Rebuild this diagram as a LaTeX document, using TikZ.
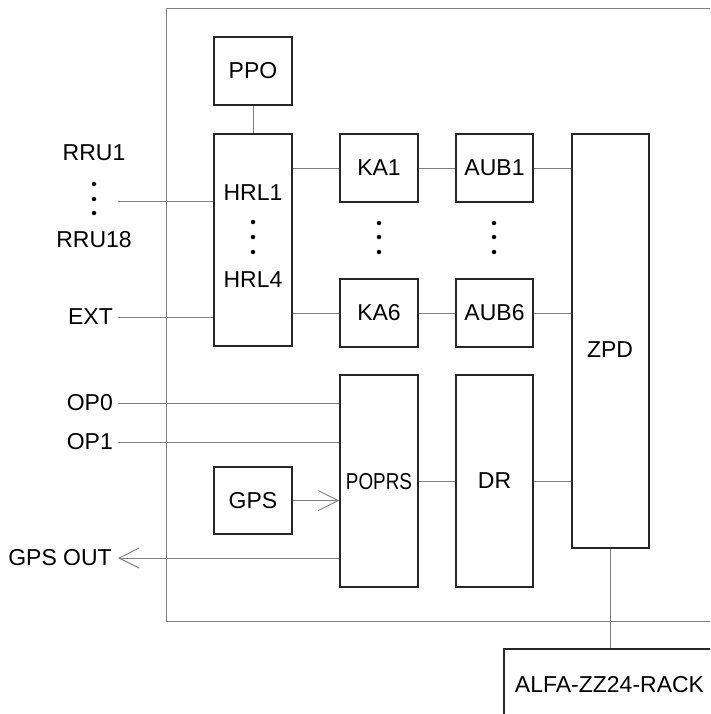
\documentclass[tikz,border=0pt]{standalone}
\usepackage{fontspec}
\setmainfont{Liberation Sans}
\usetikzlibrary{arrows.meta}
\begin{document}
\begin{tikzpicture}[x=1pt,y=-1pt,
  box/.style={draw=black!85, line width=1.5pt, minimum width=78pt, inner sep=0pt, font=\fontsize{23}{27}\selectfont},
  txt/.style={inner sep=0pt, font=\fontsize{23}{27}\selectfont},
  conn/.style={draw=black!50, line width=0.9pt},
  vdot/.style={circle, fill=black, inner sep=0pt, minimum size=4.5pt},
  oarrow/.style={-{Straight Barb[length=20pt,width=20pt]}}]
\useasboundingbox (0,0) rectangle (710,714);
\clip (0,0) rectangle (710,714);
\fill[white] (0,0) rectangle (710,714);
% outer frame
\draw[conn] (166,8) rectangle (740,621);
% boxes
\node[box, minimum height=68pt] (ppo) at (253,71) {PPO};
\node[box, minimum height=212pt] (hrl) at (253,240) {};
\node[box, minimum height=68pt] (ka1) at (379,168) {KA1};
\node[box, minimum height=68pt, minimum width=77pt] (aub1) at (494.5,168) {AUB1};
\node[box, minimum height=68pt] (ka6) at (379,313) {KA6};
\node[box, minimum height=68pt, minimum width=77pt] (aub6) at (494.5,313) {AUB6};
\node[box, minimum height=414pt, minimum width=77pt] (zpd) at (610.5,341) {};
\node[box, minimum height=212pt] (poprs) at (379,481) {};
\node[box, minimum height=212pt, minimum width=77pt] (dr) at (494.5,481) {DR};
\node[box, minimum height=67pt] (gps) at (253,500.5) {GPS};
\node[box, minimum height=80pt, minimum width=211pt] (alfa) at (609.5,689) {};
% texts inside boxes
\node[txt] (hrl1) at (253,193) {HRL1};
\node[txt] (hrl4) at (253,280) {HRL4};
\node[vdot] (hd1) at (253,222) {};
\node[vdot] (hd2) at (253,237) {};
\node[vdot] (hd3) at (253,252) {};
\node[txt] (zpdt) at (610,350) {ZPD};
\node[txt] (poprst) at (379,482) {\scalebox{0.82}[1]{POPRS}};
\node[txt] (alfat) at (609.5,685) {ALFA-ZZ24-RACK};
% dots between KA / AUB
\node[vdot] (kd1) at (379,223) {};
\node[vdot] (kd2) at (379,237) {};
\node[vdot] (kd3) at (379,252) {};
\node[vdot] (ad1) at (494,223) {};
\node[vdot] (ad2) at (494,237) {};
\node[vdot] (ad3) at (494,252) {};
% external labels
\node[txt] (rru1) at (94,153) {RRU1};
\node[vdot] (rd1) at (94,184) {};
\node[vdot] (rd2) at (94,199) {};
\node[vdot] (rd3) at (94,213) {};
\node[txt] (rru18) at (94,240) {RRU18};
\node[txt, anchor=east] (ext) at (113,317) {EXT};
\node[txt, anchor=east] (op0) at (113,403) {OP0};
\node[txt, anchor=east] (op1) at (113,442) {OP1};
\node[txt, anchor=east] (gpsout) at (112,558) {GPS OUT};
% free ends
\coordinate (rruend) at (118,201);
\coordinate (extend) at (118,317);
\coordinate (op0end) at (118,403);
\coordinate (op1end) at (118,442);
\coordinate (gpsoutend) at (118,558);
% connectors
\draw[conn] (ppo.south) -- (hrl.north);
\draw[conn] (rruend) -- (rruend -| hrl.west);
\draw[conn] (extend) -- (extend -| hrl.west);
\draw[conn] (ka1.west -| hrl.east) -- (ka1.west);
\draw[conn] (ka6.west -| hrl.east) -- (ka6.west);
\draw[conn] (ka1.east) -- (aub1.west);
\draw[conn] (ka6.east) -- (aub6.west);
\draw[conn] (aub1.east) -- (aub1.east -| zpd.west);
\draw[conn] (aub6.east) -- (aub6.east -| zpd.west);
\draw[conn] (op0end) -- (op0end -| poprs.west);
\draw[conn] (op1end) -- (op1end -| poprs.west);
\draw[conn, oarrow] (gps.east) -- (gps.east -| poprs.west);
\draw[conn, oarrow] (gpsoutend -| poprs.west) -- (gpsoutend);
\draw[conn] (poprs.east) -- (dr.west);
\draw[conn] (dr.east) -- (dr.east -| zpd.west);
\draw[conn] (zpd.south) -- (zpd.south |- alfa.north);
\end{tikzpicture}
\end{document}
